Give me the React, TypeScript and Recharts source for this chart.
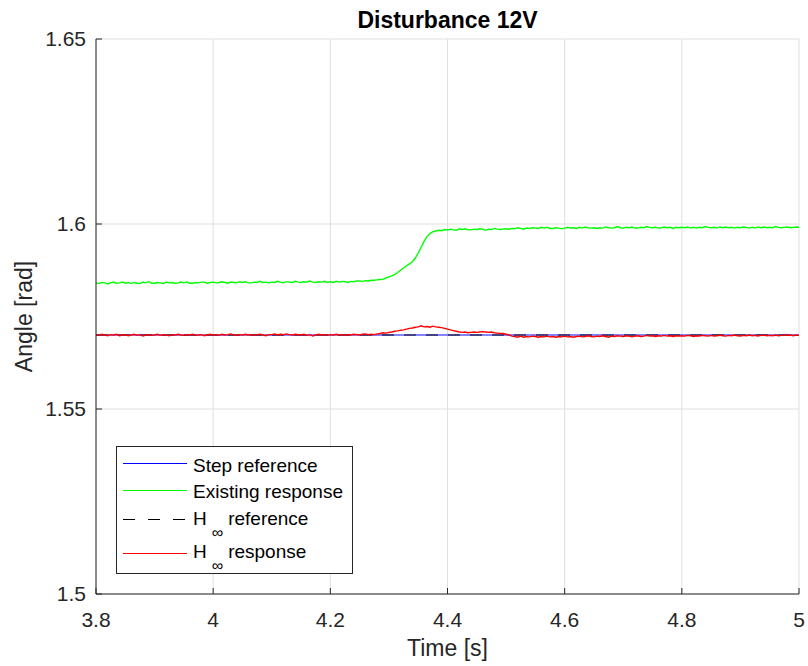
import React from 'react';
import { LineChart, Line, XAxis, YAxis, CartesianGrid, Customized } from 'recharts';

const FONT = '"Liberation Sans", Arial, Helvetica, sans-serif';

// Sampling of the recorded signals (seconds)
const timeStart = 3.8;
const timeStep = 0.005;

// Existing controller response [rad], one value per 5 ms from 3.800 s to 5.000 s
const existingResponse = [
  1.5841, 1.5839, 1.5842, 1.5841, 1.5838, 1.5841, 1.5843, 1.5840, 1.5841, 1.5843,
  1.5840, 1.5842, 1.5839, 1.5842, 1.5840, 1.5839, 1.5843, 1.5841, 1.5844, 1.5840,
  1.5840, 1.5842, 1.5841, 1.5839, 1.5843, 1.5841, 1.5842, 1.5840, 1.5841, 1.5843,
  1.5841, 1.5843, 1.5840, 1.5840, 1.5842, 1.5841, 1.5843, 1.5843, 1.5840, 1.5842,
  1.5843, 1.5841, 1.5842, 1.5844, 1.5842, 1.5840, 1.5843, 1.5842, 1.5841, 1.5844,
  1.5842, 1.5844, 1.5841, 1.5841, 1.5843, 1.5842, 1.5845, 1.5842, 1.5843, 1.5841,
  1.5843, 1.5842, 1.5845, 1.5843, 1.5841, 1.5844, 1.5843, 1.5842, 1.5845, 1.5843,
  1.5842, 1.5844, 1.5843, 1.5846, 1.5843, 1.5842, 1.5844, 1.5843, 1.5845, 1.5842,
  1.5844, 1.5842, 1.5845, 1.5843, 1.5845, 1.5844, 1.5842, 1.5845, 1.5844, 1.5846,
  1.5846, 1.5845, 1.5847, 1.5846, 1.5848, 1.5848, 1.5849, 1.5850, 1.5851, 1.5854,
  1.5857, 1.5860, 1.5864, 1.5869, 1.5875, 1.5881, 1.5887, 1.5892, 1.5898, 1.5908,
  1.5921, 1.5937, 1.5953, 1.5966, 1.5974, 1.5979, 1.5981, 1.5983, 1.5982, 1.5985,
  1.5984, 1.5986, 1.5984, 1.5983, 1.5987, 1.5985, 1.5987, 1.5984, 1.5984, 1.5986,
  1.5985, 1.5987, 1.5986, 1.5983, 1.5986, 1.5985, 1.5988, 1.5986, 1.5985, 1.5986,
  1.5987, 1.5986, 1.5988, 1.5987, 1.5990, 1.5988, 1.5986, 1.5989, 1.5988, 1.5990,
  1.5989, 1.5988, 1.5991, 1.5989, 1.5991, 1.5988, 1.5988, 1.5990, 1.5989, 1.5987,
  1.5989, 1.5991, 1.5989, 1.5990, 1.5988, 1.5991, 1.5989, 1.5992, 1.5990, 1.5989,
  1.5990, 1.5988, 1.5990, 1.5989, 1.5992, 1.5990, 1.5989, 1.5990, 1.5993, 1.5990,
  1.5989, 1.5991, 1.5990, 1.5992, 1.5989, 1.5989, 1.5991, 1.5990, 1.5993, 1.5991,
  1.5990, 1.5991, 1.5989, 1.5990, 1.5992, 1.5990, 1.5991, 1.5988, 1.5991, 1.5990,
  1.5991, 1.5990, 1.5992, 1.5989, 1.5991, 1.5989, 1.5991, 1.5990, 1.5993, 1.5991,
  1.5990, 1.5991, 1.5989, 1.5992, 1.5990, 1.5992, 1.5990, 1.5991, 1.5989, 1.5991,
  1.5990, 1.5992, 1.5991, 1.5989, 1.5991, 1.5989, 1.5992, 1.5990, 1.5992, 1.5990,
  1.5991, 1.5990, 1.5993, 1.5991, 1.5990, 1.5991, 1.5992, 1.5990, 1.5991, 1.5992,
  1.5991,
];

// H-infinity controller response [rad], same sampling
const hinfResponse = [
  1.5701, 1.5699, 1.5702, 1.5700, 1.5698, 1.5701, 1.5700, 1.5702, 1.5698, 1.5700,
  1.5701, 1.5698, 1.5700, 1.5702, 1.5699, 1.5701, 1.5697, 1.5700, 1.5701, 1.5699,
  1.5700, 1.5702, 1.5699, 1.5701, 1.5700, 1.5698, 1.5701, 1.5700, 1.5702, 1.5700,
  1.5699, 1.5701, 1.5700, 1.5702, 1.5699, 1.5700, 1.5701, 1.5698, 1.5700, 1.5702,
  1.5700, 1.5701, 1.5699, 1.5702, 1.5700, 1.5701, 1.5703, 1.5700, 1.5699, 1.5701,
  1.5700, 1.5702, 1.5700, 1.5701, 1.5699, 1.5701, 1.5702, 1.5700, 1.5698, 1.5701,
  1.5701, 1.5703, 1.5700, 1.5702, 1.5701, 1.5703, 1.5701, 1.5700, 1.5702, 1.5701,
  1.5700, 1.5702, 1.5699, 1.5701, 1.5697, 1.5700, 1.5702, 1.5700, 1.5701, 1.5699,
  1.5701, 1.5700, 1.5702, 1.5700, 1.5701, 1.5699, 1.5701, 1.5700, 1.5702, 1.5701,
  1.5700, 1.5702, 1.5703, 1.5701, 1.5702, 1.5701, 1.5703, 1.5704, 1.5706, 1.5705,
  1.5707, 1.5708, 1.5710, 1.5711, 1.5713, 1.5714, 1.5716, 1.5718, 1.5719, 1.5721,
  1.5722, 1.5725, 1.5722, 1.5723, 1.5721, 1.5724, 1.5722, 1.5721, 1.5720, 1.5718,
  1.5716, 1.5714, 1.5712, 1.5710, 1.5708, 1.5707, 1.5708, 1.5706, 1.5707, 1.5708,
  1.5707, 1.5708, 1.5709, 1.5708, 1.5707, 1.5708, 1.5706, 1.5705, 1.5704, 1.5704,
  1.5702, 1.5700, 1.5697, 1.5696, 1.5694, 1.5697, 1.5694, 1.5696, 1.5695, 1.5697,
  1.5696, 1.5694, 1.5696, 1.5695, 1.5697, 1.5695, 1.5696, 1.5694, 1.5696, 1.5695,
  1.5697, 1.5695, 1.5696, 1.5694, 1.5696, 1.5697, 1.5695, 1.5696, 1.5698, 1.5696,
  1.5695, 1.5697, 1.5696, 1.5698, 1.5696, 1.5694, 1.5697, 1.5696, 1.5698, 1.5697,
  1.5696, 1.5698, 1.5697, 1.5695, 1.5697, 1.5698, 1.5696, 1.5697, 1.5699, 1.5697,
  1.5698, 1.5696, 1.5698, 1.5697, 1.5699, 1.5697, 1.5698, 1.5696, 1.5698, 1.5697,
  1.5698, 1.5697, 1.5699, 1.5698, 1.5696, 1.5698, 1.5697, 1.5699, 1.5698, 1.5697,
  1.5699, 1.5697, 1.5698, 1.5700, 1.5698, 1.5697, 1.5699, 1.5698, 1.5700, 1.5698,
  1.5697, 1.5699, 1.5698, 1.5700, 1.5698, 1.5699, 1.5697, 1.5699, 1.5700, 1.5698,
  1.5699, 1.5698, 1.5700, 1.5698, 1.5699, 1.5701, 1.5699, 1.5700, 1.5698, 1.5700,
  1.5699,
];

const stepReference = 1.57;
const hinfReference = 1.57;

const xTicks = [3.8, 4, 4.2, 4.4, 4.6, 4.8, 5];
const yTicks = [1.5, 1.55, 1.6, 1.65];

const seriesNames = ['Step reference', 'Existing response', 'H reference', 'H response'];
const seriesColors = ['#0000ff', '#00ff00', '#000000', '#ff0000'];

const n = Math.min(existingResponse.length, hinfResponse.length);
const data = Array.from({ length: n }, (_, i) => ({
  t: +(timeStart + i * timeStep).toFixed(3),
  step: stepReference,
  existing: existingResponse[i],
  hinfRef: hinfReference,
  hinf: hinfResponse[i],
}));

const TEXT_COLOR = '#262626';

const Overlay = () => {
  const rows = [
    { lineY: 463.5, textY: 472, name: 'Step reference', color: seriesColors[0], dash: undefined, sub: false },
    { lineY: 490.5, textY: 498, name: 'Existing response', color: seriesColors[1], dash: undefined, sub: false },
    { lineY: 519.5, textY: 525, name: 'reference', color: seriesColors[2], dash: '12 13', sub: true },
    { lineY: 553.5, textY: 558, name: 'response', color: seriesColors[3], dash: undefined, sub: true },
  ];
  return (
    <g style={{ fontFamily: FONT }}>
      <text x={447.5} y={28} textAnchor="middle" fontSize={23} fontWeight="bold" fill="#000">
        Disturbance 12V
      </text>
      <text x={447.5} y={656} textAnchor="middle" fontSize={23} fill={TEXT_COLOR}>
        Time [s]
      </text>
      <text
        x={32}
        y={316.5}
        textAnchor="middle"
        fontSize={23}
        fill={TEXT_COLOR}
        transform="rotate(-90 32 316.5)"
      >
        Angle [rad]
      </text>
      <rect x={116.5} y={446.5} width={236} height={127} fill="#fff" stroke={TEXT_COLOR} strokeWidth={1} />
      {rows.map((r, i) => (
        <g key={i}>
          <line
            x1={123}
            x2={187}
            y1={r.lineY}
            y2={r.lineY}
            stroke={r.color}
            strokeWidth={1}
            strokeDasharray={r.dash}
          />
          {r.sub ? (
            <text x={193} y={r.textY} fontSize={19} fill="#000">
              <tspan>H</tspan>
              <tspan dx={5} dy={13} fontSize={16}>∞</tspan>
              <tspan dx={5} dy={-13}>{r.name}</tspan>
            </text>
          ) : (
            <text x={193} y={r.textY} fontSize={19} fill="#000">
              {r.name}
            </text>
          )}
        </g>
      ))}
    </g>
  );
};

export default function App() {
  return (
    <div style={{ position: 'absolute', left: 0, top: 0, width: 808, height: 666, background: '#fff', fontFamily: FONT }}>
      <LineChart
        width={808}
        height={666}
        data={data}
        margin={{ top: 39, right: 9, bottom: 42, left: 36 }}
      >
        <CartesianGrid stroke="#dfdfdf" strokeWidth={1} />
        <XAxis
          dataKey="t"
          type="number"
          domain={[3.8, 5]}
          ticks={xTicks}
          allowDataOverflow
          height={30}
          tickSize={-6}
          tickMargin={24}
          stroke={TEXT_COLOR}
          tickLine={{ stroke: TEXT_COLOR }}
          axisLine={{ stroke: TEXT_COLOR }}
          tick={{ fontSize: 21, fill: TEXT_COLOR, fontFamily: FONT }}
          interval={0}
        />
        <YAxis
          type="number"
          domain={[1.5, 1.65]}
          ticks={yTicks}
          allowDataOverflow
          width={60}
          tickSize={-6}
          tickMargin={16}
          stroke={TEXT_COLOR}
          tickLine={{ stroke: TEXT_COLOR }}
          axisLine={{ stroke: TEXT_COLOR }}
          tick={{ fontSize: 21, fill: TEXT_COLOR, fontFamily: FONT }}
          interval={0}
        />
        <Line
          dataKey="step"
          name={seriesNames[0]}
          stroke={seriesColors[0]}
          strokeWidth={1}
          dot={false}
          activeDot={false}
          isAnimationActive={false}
        />
        <Line
          dataKey="existing"
          name={seriesNames[1]}
          stroke={seriesColors[1]}
          strokeWidth={1.4}
          dot={false}
          activeDot={false}
          isAnimationActive={false}
        />
        <Line
          dataKey="hinfRef"
          name={seriesNames[2]}
          stroke={seriesColors[2]}
          strokeWidth={1}
          strokeDasharray="12 10"
          dot={false}
          activeDot={false}
          isAnimationActive={false}
        />
        <Line
          dataKey="hinf"
          name={seriesNames[3]}
          stroke={seriesColors[3]}
          strokeWidth={1.4}
          dot={false}
          activeDot={false}
          isAnimationActive={false}
        />
        <Customized component={Overlay} />
      </LineChart>
    </div>
  );
}
